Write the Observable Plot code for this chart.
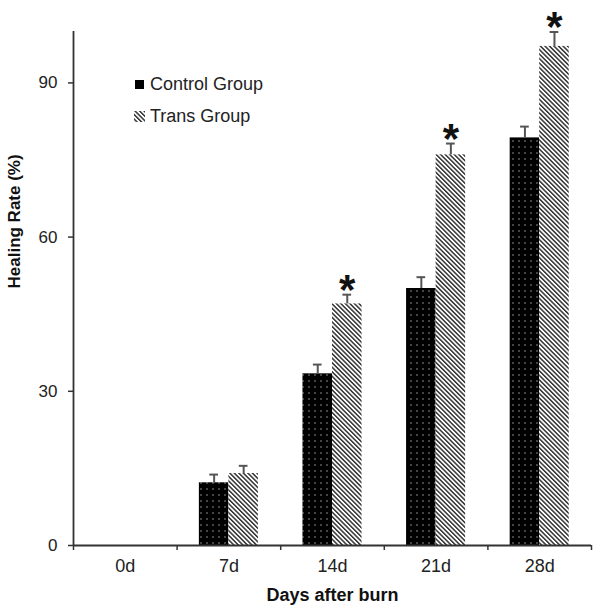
<!DOCTYPE html>
<html><head><meta charset="utf-8">
<script src="https://cdn.jsdelivr.net/npm/d3@7"></script>
<script src="https://cdn.jsdelivr.net/npm/@observablehq/plot@0.6"></script>
<style>
body{margin:0;background:#fff;font-family:"Liberation Sans",Arial,sans-serif}
#wrap{position:relative;width:600px;height:609px}
.legend{position:absolute;left:134px;top:68px;font-size:18px;color:#222}
.legend .row{display:flex;align-items:center;height:32px}
.legend svg{margin-right:5px}
</style></head><body>
<svg width="0" height="0" style="position:absolute"><defs>
<pattern id="dots" width="6" height="6" patternUnits="userSpaceOnUse"><rect width="6" height="6" fill="#000"/><circle cx="3" cy="3" r="0.8" fill="#9a9a9a"/></pattern>
<pattern id="hatch" width="3.2" height="3.2" patternUnits="userSpaceOnUse" patternTransform="rotate(-45)"><rect width="3.2" height="3.2" fill="#fff"/><rect width="1.5" height="3.2" fill="#333"/></pattern>
</defs></svg>
<div id="wrap"></div>
<script>
const days = ["0d","7d","14d","21d","28d"];
const groups = ["Control Group","Trans Group"];
const control = [0, 12.2, 33.4, 50.0, 79.3];
const controlErr = [0, 1.6, 1.8, 2.2, 2.2];
const trans = [0, 14.0, 47.0, 76.0, 97.1];
const transErr = [0, 1.5, 1.8, 2.2, 2.8];
const significant = [false, false, true, true, true];
const yTicks = [0, 30, 60, 90];

const rows = [];
days.forEach((d, i) => {
  rows.push({day: d, i, group: groups[0], side: -1, value: control[i], err: controlErr[i], sig: false});
  rows.push({day: d, i, group: groups[1], side: 1, value: trans[i], err: transErr[i], sig: significant[i]});
});
const barW = 0.285;   // bar width as fraction of a day slot
const capW = 0.042;   // half width of error cap
const center = d => d.i + 0.5 + d.side * barW / 2;
const fillOf = d => d.side < 0 ? "url(#dots)" : "url(#hatch)";
const withErr = rows.filter(d => d.err > 0);

const chart = Plot.plot({
  width: 600, height: 609,
  marginLeft: 73, marginRight: 9, marginTop: 31, marginBottom: 64,
  style: {fontFamily: "Liberation Sans, Arial, sans-serif", color: "#222", background: "#fff"},
  x: {domain: [0, days.length], axis: null},
  y: {domain: [0, 100], axis: null},
  marks: [
    Plot.rectY(rows.filter(d => d.value > 0), {
      x1: d => d.side < 0 ? d.i + 0.5 - barW : d.i + 0.5,
      x2: d => d.side < 0 ? d.i + 0.5 : d.i + 0.5 + barW,
      y1: 0, y2: "value", fill: fillOf
    }),
    Plot.ruleX(withErr, {x: center, y1: "value", y2: d => d.value + d.err, stroke: "#555", strokeWidth: 2}),
    Plot.ruleY(withErr, {y: d => d.value + d.err, x1: d => center(d) - capW, x2: d => center(d) + capW, stroke: "#555", strokeWidth: 2}),
    Plot.text(rows.filter(d => d.sig), {x: center, y: d => d.value + d.err, text: () => "*", fontSize: 42, fontWeight: "bold", fill: "#111", dy: -4}),
    Plot.axisY({ticks: yTicks, tickSize: 5, tickPadding: 11, fontSize: 17, label: null, stroke: "#333", strokeWidth: 1.5}),
    Plot.axisX({ticks: d3.range(days.length + 1), tickSize: 5, tickFormat: () => "", label: null, stroke: "#333", strokeWidth: 1.5}),
    Plot.axisX({ticks: d3.range(days.length).map(i => i + 0.5), tickSize: 0, tickPadding: 14, fontSize: 18, tickFormat: v => days[Math.floor(v)], label: null}),
    Plot.ruleX([0], {stroke: "#333", strokeWidth: 1.8}),
    Plot.ruleY([0], {stroke: "#333", strokeWidth: 1.8}),
    Plot.text(["Days after burn"], {frameAnchor: "bottom", lineAnchor: "middle", dy: 50, fontSize: 18, fontWeight: "bold", fill: "#111"}),
    Plot.text(["Healing Rate (%)"], {frameAnchor: "left", lineAnchor: "middle", rotate: -90, dx: -59, fontSize: 17, fontWeight: "bold", fill: "#111"})
  ]
});
const wrap = document.getElementById("wrap");
wrap.appendChild(chart);
const legend = document.createElement("div");
legend.className = "legend";
legend.innerHTML = groups.map((g, k) => `<div class="row"><svg width="11" height="11"><rect width="${k ? 11 : 9}" height="${k ? 11 : 9}" y="${k ? 0 : 1}" x="${k ? 0 : 1}" fill="${k ? "url(#hatch)" : "#000"}"/></svg><span>${g}</span></div>`).join("");
wrap.appendChild(legend);
</script>
</body></html>
